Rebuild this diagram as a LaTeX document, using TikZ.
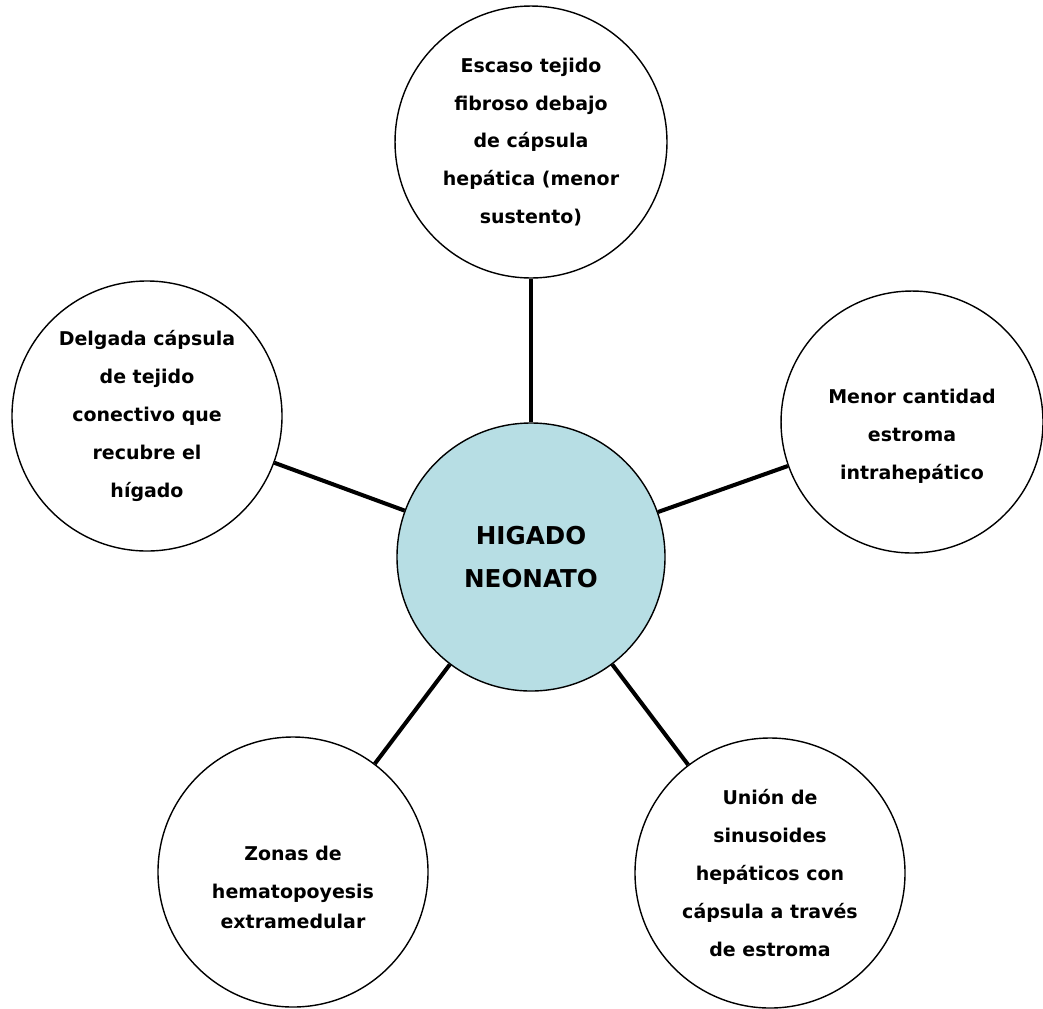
\documentclass[tikz,border=0pt]{standalone}
\usepackage{fontspec}
\setmainfont{DejaVu Sans}
\usepackage{tikz}
\usetikzlibrary{math}
\definecolor{HubBlue}{RGB}{183,222,228}
\tikzset{%
  leaf/.style={circle, draw=black, line width=0.8pt, fill=white, inner sep=0pt,
    align=center, font={\fontsize{10.8}{21.6}\selectfont\bfseries}},
  hub/.style={leaf, fill=HubBlue, font={\fontsize{14}{24.5}\selectfont\bfseries}},
  spoke/.style={line width=2.3pt, color=black}
}

\begin{document}
\begin{tikzpicture}[x=0.02cm,y=-0.02cm]
    \tikzmath{
      \R=268*0.02; % hub diameter, cm
      \D=270*0.02; % leaf diameter, cm
    }
    \useasboundingbox (0,0) rectangle (1043,1008);
    \node[hub, minimum size=\R cm] (higado) at (531,557) {HIGADO\\NEONATO};
    \node[leaf, minimum size=5.44cm] (fibroso) at (531,142)
      {Escaso tejido\\fibroso debajo\\de cápsula\\hepática (menor\\sustento)};
    \node[leaf, minimum size=\D cm] (capsula) at (147,416)
      {Delgada cápsula\\de tejido\\conectivo que\\recubre el\\hígado};
    \node[leaf, minimum size=5.24cm] (estroma) at (912,422)
      {\rule{0pt}{24pt}Menor cantidad\\estroma\\intrahepático}; % text sits low
    \node[leaf, minimum size=\D cm] (zonas) at (293,872)
      {\rule{0pt}{26pt}Zonas de\\hematopoyesis\\[-4.5pt]extramedular};
    \node[leaf, minimum size=\D cm] (sinusoides) at (770,873)
      {Unión de\\sinusoides\\hepáticos con\\cápsula a través\\de estroma};
    \foreach \n in {fibroso,capsula,estroma,zonas,sinusoides} {
      \draw[spoke] (higado) -- (\n);
    }
  \end{tikzpicture}
\end{document}
